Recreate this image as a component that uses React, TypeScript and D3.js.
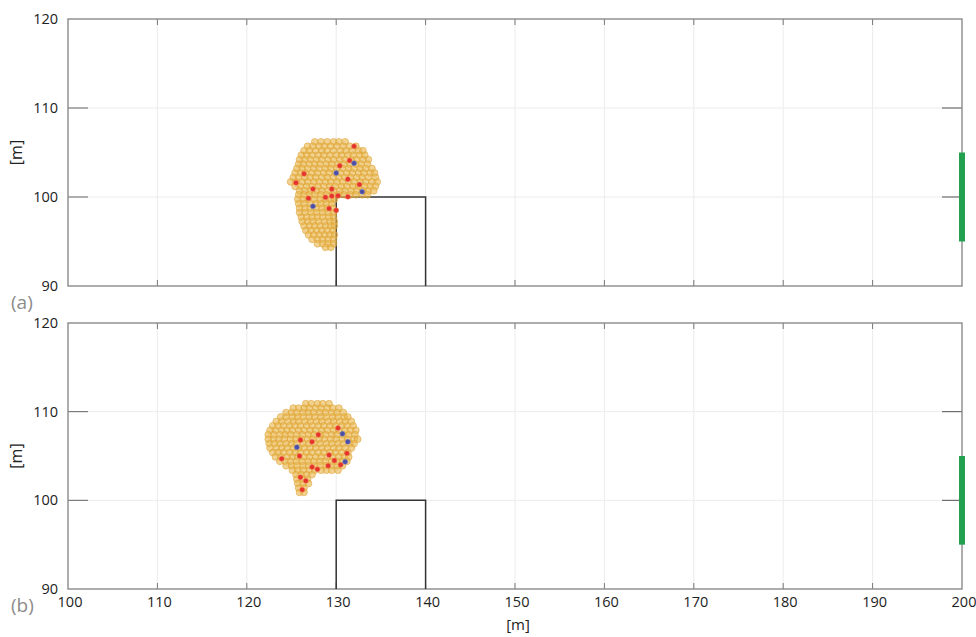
import React from "react";
import * as d3 from "d3";

const xTicks = [100, 110, 120, 130, 140, 150, 160, 170, 180, 190, 200];
const yTicks = [90, 100, 110, 120];

const obstacleX = [130, 130, 140, 140];
const obstacleY = [90, 100, 100, 90];
const greenBar = { x: 200, y0: 95, y1: 105 };

// panel (a) orange particles: rows of [y, xs]
const orangeARows: [number, number[]][] = [
  [106.2, [127.6, 128.3, 129.0, 129.7, 130.3, 131.0]],
  [105.7, [126.8, 127.4, 128.1, 128.7, 129.4, 130.1, 130.8, 131.5, 132.2]],
  [105.2, [126.4, 127.0, 127.7, 128.4, 129.0, 129.7, 130.5, 131.1, 131.8, 132.5, 133.0]],
  [104.7, [126.1, 126.7, 127.3, 128.0, 128.6, 129.3, 130.0, 130.6, 131.3, 131.9, 132.6, 133.2]],
  [104.2, [125.9, 126.5, 127.1, 127.8, 128.4, 129.1, 129.7, 130.4, 131.0, 131.7, 132.3, 133.0, 133.6]],
  [103.7, [125.8, 126.3, 127.0, 127.6, 128.2, 128.9, 129.5, 130.2, 130.9, 131.5, 132.2, 132.8, 133.5]],
  [103.2, [125.6, 126.2, 126.8, 127.5, 128.1, 128.8, 129.4, 130.1, 130.7, 131.4, 132.0, 132.7, 133.3, 134.0]],
  [102.7, [125.4, 126.0, 126.6, 127.3, 127.9, 128.6, 129.2, 129.9, 130.5, 131.2, 131.8, 132.5, 133.1, 133.8, 134.3]],
  [102.2, [125.2, 125.8, 126.5, 127.1, 127.7, 128.4, 129.0, 129.7, 130.3, 131.0, 131.6, 132.3, 132.9, 133.6, 134.4]],
  [101.7, [124.9, 125.5, 126.2, 126.8, 127.5, 128.1, 128.8, 129.4, 130.1, 130.7, 131.4, 132.0, 132.7, 133.3, 134.0, 134.6]],
  [101.2, [125.4, 126.0, 126.7, 127.3, 128.0, 128.6, 129.3, 129.9, 130.6, 131.2, 131.9, 132.5, 133.2, 133.8, 134.4]],
  [100.7, [125.9, 126.5, 127.1, 127.8, 128.4, 129.1, 129.7, 130.4, 131.0, 131.7, 132.3, 133.0, 133.6, 134.2]],
  [100.25, [125.8, 126.4, 127.0, 127.6, 128.3, 128.9, 129.6, 130.3, 130.9, 131.6, 132.2, 132.9, 133.5]],
  [99.75, [125.7, 126.3, 126.9, 127.6, 128.2, 128.8, 129.4, 129.8]],
  [99.25, [125.8, 126.4, 127.1, 127.7, 128.3, 128.9, 129.5]],
  [98.75, [125.9, 126.5, 127.1, 127.8, 128.4, 129.0, 129.6]],
  [98.25, [125.9, 126.5, 127.2, 127.8, 128.5, 129.1, 129.7]],
  [97.75, [126.1, 126.7, 127.3, 127.9, 128.5, 129.2, 129.7]],
  [97.25, [126.2, 126.8, 127.4, 128.0, 128.7, 129.3, 129.8]],
  [96.75, [126.4, 127.0, 127.6, 128.2, 128.8, 129.4, 129.8]],
  [96.25, [126.6, 127.2, 127.8, 128.4, 129.0, 129.6]],
  [95.75, [126.9, 127.5, 128.1, 128.7, 129.3, 129.8]],
  [95.25, [127.3, 127.9, 128.5, 129.1, 129.7]],
  [94.75, [127.9, 128.5, 129.1, 129.7]],
  [94.35, [128.8, 129.4]],
];

const redA: [number, number][] = [
  [132.0, 105.7], [131.5, 104.1], [130.4, 103.5], [126.4, 102.6], [131.3, 102.0],
  [125.5, 101.6], [132.6, 101.4], [127.4, 100.9], [129.5, 100.9], [126.9, 99.85],
  [128.8, 99.96], [129.5, 100.1], [130.2, 100.15], [131.3, 100.03], [129.2, 98.7], [130.0, 98.5],
];
const blueA: [number, number][] = [
  [132.0, 103.8], [130.0, 102.7], [132.9, 100.6], [127.4, 98.95],
];

// panel (b) orange particles
const orangeBRows: [number, number[]][] = [
  [110.9, [126.6, 127.2, 127.9, 128.5, 129.2]],
  [110.4, [125.2, 125.8, 126.4, 127.0, 127.7, 128.3, 129.0, 129.6, 130.3]],
  [109.9, [124.4, 125.0, 125.6, 126.3, 126.9, 127.5, 128.2, 128.8, 129.5, 130.1, 130.8]],
  [109.4, [123.8, 124.4, 125.1, 125.7, 126.3, 127.0, 127.6, 128.3, 128.9, 129.6, 130.2, 130.9, 131.3]],
  [108.9, [123.3, 123.9, 124.6, 125.2, 125.8, 126.5, 127.1, 127.8, 128.4, 129.1, 129.7, 130.4, 131.0, 131.7]],
  [108.4, [122.9, 123.5, 124.1, 124.8, 125.4, 126.0, 126.7, 127.3, 128.0, 128.6, 129.3, 129.9, 130.6, 131.2, 131.9]],
  [107.9, [122.6, 123.2, 123.9, 124.5, 125.1, 125.8, 126.4, 127.1, 127.7, 128.4, 129.0, 129.7, 130.3, 131.0, 131.6, 132.2]],
  [107.4, [122.4, 123.0, 123.7, 124.3, 124.9, 125.6, 126.2, 126.9, 127.5, 128.2, 128.8, 129.5, 130.1, 130.8, 131.4, 132.1]],
  [106.9, [122.4, 123.0, 123.6, 124.2, 124.9, 125.5, 126.1, 126.8, 127.4, 128.1, 128.7, 129.4, 130.0, 130.7, 131.3, 132.0, 132.4]],
  [106.4, [122.5, 123.1, 123.7, 124.4, 125.0, 125.6, 126.3, 126.9, 127.6, 128.2, 128.9, 129.5, 130.2, 130.8, 131.5, 132.0]],
  [105.9, [122.6, 123.3, 123.9, 124.5, 125.2, 125.8, 126.4, 127.1, 127.7, 128.4, 129.0, 129.7, 130.3, 131.0, 131.7]],
  [105.4, [122.9, 123.5, 124.1, 124.8, 125.4, 126.0, 126.7, 127.3, 128.0, 128.6, 129.3, 129.9, 130.6, 131.3]],
  [104.9, [123.2, 123.8, 124.5, 125.1, 125.7, 126.4, 127.0, 127.7, 128.3, 129.0, 129.6, 130.3, 130.9, 131.4]],
  [104.4, [123.7, 124.3, 124.9, 125.6, 126.2, 126.9, 127.5, 128.2, 128.8, 129.5, 130.1, 130.7, 131.2]],
  [103.9, [124.4, 125.0, 125.6, 126.3, 126.9, 127.6, 128.2, 128.9, 129.5, 130.1, 130.7]],
  [103.4, [125.1, 125.7, 126.3, 127.0, 127.6, 128.3, 128.9, 129.5, 130.2]],
  [102.9, [125.5, 126.1, 126.7, 127.3]],
  [102.4, [125.6, 126.2, 126.8]],
  [101.9, [125.7, 126.3, 126.9]],
  [101.4, [125.8, 126.4]],
  [100.9, [125.9, 126.4]],
];

const redB: [number, number][] = [
  [130.2, 108.15], [128.0, 107.4], [126.0, 106.8], [127.3, 106.6], [131.2, 105.3],
  [129.2, 105.1], [125.9, 105.0], [123.9, 104.7], [129.8, 104.5], [129.1, 103.9],
  [130.5, 104.0], [127.3, 103.75], [127.9, 103.5], [126.0, 102.6], [126.6, 102.2], [126.2, 101.2],
];
const blueB: [number, number][] = [
  [130.7, 107.5], [131.3, 106.6], [125.6, 106.0], [131.0, 104.35],
];

const W = 976;
const H = 637;
const X0 = 68;
const X1 = 962;

const flatten = (rows: [number, number[]][]) =>
  rows.flatMap(([y, xs]) => xs.map((x) => [x, y] as [number, number]));

const x = d3.scaleLinear().domain([100, 200]).range([X0, X1]);

const FONT = "'Open Sans', sans-serif";

function Panel({
  top,
  bottom,
  orange,
  red,
  blue,
  label,
  showX,
}: {
  top: number;
  bottom: number;
  orange: [number, number][];
  red: [number, number][];
  blue: [number, number][];
  label: string;
  showX: boolean;
}) {
  const y = d3.scaleLinear().domain([90, 120]).range([bottom, top]);
  const line = d3
    .line<number>()
    .x((_, i) => x(obstacleX[i]))
    .y((_, i) => y(obstacleY[i]));
  return (
    <g>
      {xTicks.slice(1, -1).map((t) => (
        <line key={"gx" + t} x1={x(t)} x2={x(t)} y1={top} y2={bottom} stroke="#ececec" strokeWidth={1} />
      ))}
      {yTicks.slice(1, -1).map((t) => (
        <line key={"gy" + t} x1={X0} x2={X1} y1={y(t)} y2={y(t)} stroke="#ececec" strokeWidth={1} />
      ))}
      {xTicks.slice(1, -1).map((t) => (
        <g key={"tx" + t}>
          <line x1={x(t)} x2={x(t)} y1={bottom} y2={bottom - 6} stroke="#777" strokeWidth={1} />
          <line x1={x(t)} x2={x(t)} y1={top} y2={top + 6} stroke="#777" strokeWidth={1} />
        </g>
      ))}
      {yTicks.slice(1, -1).map((t) => (
        <g key={"ty" + t}>
          <line x1={X0} x2={X0 + 20} y1={y(t)} y2={y(t)} stroke="#666" strokeWidth={1} />
          <line x1={X1} x2={X1 - 20} y1={y(t)} y2={y(t)} stroke="#555" strokeWidth={1} />
        </g>
      ))}
      <rect x={X0} y={top} width={X1 - X0} height={bottom - top} fill="none" stroke="#8a8a8a" strokeWidth={1.4} />
      <path d={line(obstacleX) || ""} fill="none" stroke="#333" strokeWidth={1.5} />
      <line
        x1={x(greenBar.x)}
        x2={x(greenBar.x)}
        y1={y(greenBar.y0)}
        y2={y(greenBar.y1)}
        stroke="#22a050"
        strokeWidth={6}
      />
      {orange.map(([px, py], i) => (
        <circle
          key={"o" + i}
          cx={x(px)}
          cy={y(py)}
          r={3.4}
          fill="#e8b446"
          fillOpacity={0.6}
          stroke="#dca236"
          strokeOpacity={0.7}
          strokeWidth={0.8}
        />
      ))}
      {red.map(([px, py], i) => (
        <circle key={"r" + i} cx={x(px)} cy={y(py)} r={2.5} fill="#e5322a" stroke="#f08a60" strokeOpacity={0.6} strokeWidth={0.8} />
      ))}
      {blue.map(([px, py], i) => (
        <circle key={"b" + i} cx={x(px)} cy={y(py)} r={2.5} fill="#4a4ea6" stroke="#8a8cc8" strokeOpacity={0.6} strokeWidth={0.8} />
      ))}
      {yTicks.map((t) => (
        <text
          key={"ly" + t}
          x={58}
          y={y(t)}
          dy="0.35em"
          textAnchor="end"
          fontFamily={FONT}
          fontSize={14.5}
          fill="#222"
        >
          {t}
        </text>
      ))}
      <text
        transform={`translate(22,${(top + bottom) / 2}) rotate(-90)`}
        textAnchor="middle"
        fontFamily={FONT}
        fontSize={16}
        fill="#222"
      >
        [m]
      </text>
      <text x={11} y={bottom + 23} fontFamily={FONT} fontSize={19} fill="#8c8c8c">
        {label}
      </text>
      {showX &&
        xTicks.map((t) => (
          <text
            key={"lx" + t}
            x={x(t) + 2}
            y={bottom + 18}
            textAnchor="middle"
            fontFamily={FONT}
            fontSize={14.5}
            fill="#222"
          >
            {t}
          </text>
        ))}
      {showX && (
        <text x={x(150) + 3} y={bottom + 41} textAnchor="middle" fontFamily={FONT} fontSize={15} fill="#222">
          [m]
        </text>
      )}
    </g>
  );
}

export default function App() {
  const oA = flatten(orangeARows);
  const oB = flatten(orangeBRows);
  return (
    <svg
      width={W}
      height={H}
      style={{ position: "absolute", left: 0, top: 0, background: "#fff" }}
    >
      <rect width={W} height={H} fill="#fff" />
      <Panel top={19} bottom={286} orange={oA} red={redA} blue={blueA} label="(a)" showX={false} />
      <Panel top={323} bottom={589} orange={oB} red={redB} blue={blueB} label="(b)" showX={true} />
    </svg>
  );
}
